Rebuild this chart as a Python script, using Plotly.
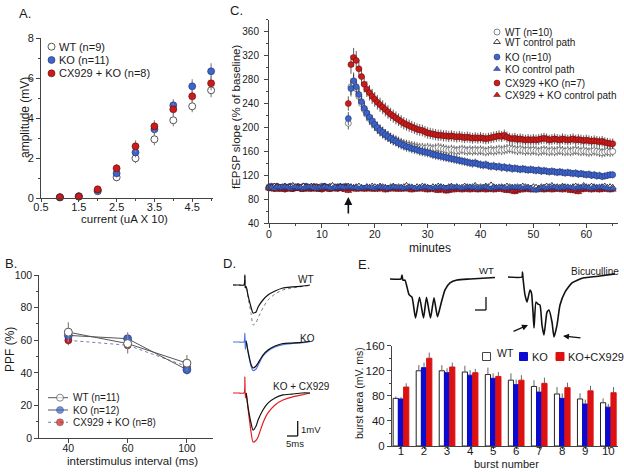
import numpy as np
import plotly.graph_objects as go

# ============================ DATA ============================
# --- Panel A: input/output
current = [1.0, 1.5, 2.0, 2.5, 3.0, 3.5, 4.0, 4.5, 5.0]
amp_wt = [0.05, 0.10, 0.35, 1.05, 2.00, 2.95, 3.90, 4.60, 5.40]
amp_wt_err = [0.05, 0.06, 0.10, 0.20, 0.25, 0.30, 0.30, 0.30, 0.35]
amp_ko = [0.05, 0.10, 0.40, 1.25, 2.30, 3.45, 4.65, 5.60, 6.35]
amp_ko_err = [0.05, 0.06, 0.10, 0.20, 0.25, 0.30, 0.30, 0.35, 0.40]
amp_cx = [0.05, 0.08, 0.45, 1.50, 2.60, 3.60, 4.45, 5.10, 5.75]
amp_cx_err = [0.05, 0.06, 0.10, 0.20, 0.30, 0.30, 0.30, 0.30, 0.35]

# --- Panel B: paired-pulse facilitation
isi_labels = ["40", "60", "100"]
ppf_wt = [65, 58, 46]
ppf_wt_err = [6, 6, 5]
ppf_ko = [63, 61, 42]
ppf_ko_err = [4, 4, 3]
ppf_cx = [60, 57, 44]
ppf_cx_err = [3, 3, 3]

# --- Panel C: LTP time course (one sample every 0.5 min, 0-65 min)
minutes = np.arange(0, 65.5, 0.5)
ltp_wt = [101, 99, 100, 102, 98, 100, 101, 99, 100, 98, 101, 100, 99, 102, 100,
          98, 100, 101, 99, 100, 102, 99, 100, 98, 101, 100, 99, 101, 100, 102,
          207, 268, 275, 265, 252, 240, 230, 222, 215, 209,
          204, 199, 195, 191, 188, 185, 182, 180, 178, 176,
          174, 172, 171, 170, 169, 168, 167, 166, 166, 165,
          166, 165, 164, 165, 166, 165, 164, 163, 162, 163,
          162, 161, 162, 163, 162, 161, 162, 161, 162, 161,
          162, 161, 160, 161, 162, 161, 162, 163, 162, 163,
          164, 165, 164, 163, 162, 163, 162, 161, 162, 161,
          162, 161, 160, 161, 162, 161, 160, 161, 160, 161,
          162, 161, 160, 161, 160, 161, 162, 161, 160, 161,
          160, 159, 160, 161, 160, 159, 158, 159, 160, 159,
          160]
ltp_ko = [100, 102, 99, 101, 100, 98, 101, 100, 102, 99, 100, 101, 98, 100, 102,
          100, 99, 101, 100, 98, 100, 102, 99, 101, 100, 99, 101, 100, 98, 101,
          215, 265, 278, 268, 255, 243, 232, 224, 217, 211,
          205, 200, 195, 192, 188, 185, 182, 179, 177, 174,
          172, 170, 168, 167, 165, 164, 163, 161, 160, 159,
          158, 157, 155, 154, 153, 152, 151, 150, 149, 148,
          147, 146, 145, 144, 143, 142, 141, 140, 141, 139,
          138, 137, 138, 136, 135, 136, 134, 135, 133, 134,
          132, 133, 131, 132, 131, 130, 131, 130, 129, 130,
          129, 128, 129, 127, 128, 127, 126, 127, 126, 125,
          126, 125, 124, 125, 124, 123, 124, 122, 123, 122,
          121, 122, 120, 121, 119, 120, 118, 119, 120, 121,
          121]
ltp_cx = [99, 100, 98, 101, 99, 100, 97, 99, 100, 98, 99, 101, 100, 98, 99,
          100, 98, 99, 101, 99, 97, 100, 99, 98, 100, 99, 98, 100, 99, 100,
          240, 305, 317, 312, 298, 285, 272, 264, 258, 252,
          247, 242, 238, 234, 230, 226, 222, 219, 216, 213,
          210, 207, 205, 203, 201, 199, 197, 196, 195, 193,
          191, 190, 189, 188, 187, 187, 186, 186, 185, 186,
          185, 184, 185, 184, 183, 184, 183, 182, 183, 182,
          183, 182, 181, 182, 183, 184, 185, 186, 185, 187,
          184, 182, 181, 182, 180, 181, 180, 179, 180, 179,
          180, 179, 180, 181, 182, 181, 179, 180, 181, 180,
          179, 181, 180, 179, 180, 181, 179, 180, 179, 178,
          179, 178, 177, 178, 177, 176, 177, 175, 174, 173,
          173]
ctl_wt = [101, 100, 102, 101, 99, 101, 102, 100, 101, 103, 100, 101, 99, 102, 101,
          100, 102, 101, 100, 99, 101, 102, 100, 101, 103, 101, 100, 102, 101, 100,
          102, 101, 100, 101, 102, 100, 99, 101, 100, 102,
          101, 100, 102, 101, 100, 99, 101, 102, 100, 101,
          100, 101, 103, 101, 100, 99, 101, 100, 102, 101,
          100, 99, 101, 100, 102, 101, 100, 99, 101, 102,
          100, 101, 99, 100, 102, 101, 100, 101, 103, 100,
          101, 100, 102, 101, 104, 101, 100, 99, 101, 100,
          102, 101, 100, 99, 101, 100, 102, 101, 100, 99,
          101, 100, 99, 101, 100, 102, 101, 103, 100, 101,
          100, 102, 101, 100, 99, 101, 102, 101, 100, 103,
          101, 100, 102, 101, 100, 99, 101, 102, 100, 101,
          100]
ctl_ko = [99, 100, 98, 101, 100, 99, 101, 100, 98, 100, 101, 99, 100, 98, 99,
          101, 100, 99, 98, 100, 99, 101, 100, 99, 98, 100, 99, 101, 100, 99,
          100, 101, 99, 100, 98, 100, 99, 101, 100, 99,
          98, 100, 101, 99, 100, 98, 99, 101, 100, 99,
          100, 98, 99, 100, 101, 99, 98, 100, 99, 101,
          100, 99, 98, 100, 99, 101, 100, 98, 99, 100,
          99, 101, 100, 98, 99, 100, 101, 99, 100, 98,
          99, 100, 101, 99, 98, 100, 99, 101, 100, 99,
          98, 99, 100, 101, 99, 100, 98, 99, 100, 99,
          96, 95, 97, 99, 100, 98, 99, 100, 101, 99,
          98, 100, 99, 101, 100, 99, 98, 100, 99, 101,
          100, 99, 98, 100, 99, 101, 100, 99, 98, 97,
          98]
ctl_cx = [98, 97, 99, 96, 98, 97, 99, 98, 96, 97, 98, 99, 97, 96, 98,
          97, 99, 98, 96, 97, 98, 97, 99, 96, 98, 97, 98, 99, 97, 96,
          94, 97, 98, 96, 97, 98, 96, 97, 98, 96,
          97, 96, 98, 97, 95, 96, 97, 98, 96, 97,
          96, 97, 98, 96, 95, 97, 96, 98, 97, 96,
          95, 96, 97, 95, 94, 96, 95, 93, 94, 96,
          95, 97, 96, 95, 97, 96, 95, 97, 96, 95,
          96, 97, 95, 96, 97, 95, 96, 97, 96, 95,
          94, 95, 93, 92, 94, 96, 95, 97, 96, 95,
          96, 95, 97, 96, 95, 96, 97, 95, 96, 97,
          96, 95, 97, 96, 94, 95, 93, 92, 95, 96,
          97, 96, 95, 97, 96, 95, 96, 97, 96, 95,
          96]
tetanus_minute = 15

# --- Panel D: fEPSP sample traces (ms, mV)
d_ms = [0, 2.5, 5.0, 5.4, 5.6, 6.0, 6.8, 8.2, 9.1, 10.5, 11.4, 13.6, 15.9,
        19.1, 22.7, 26.8, 31.4, 35.0]
d_wt_black = [0, 0, 0, 0.67, -0.2, -0.1, -0.67, -1.47, -1.87, -1.8, -1.47, -1.0,
              -0.67, -0.4, -0.2, -0.13, -0.07, 0]
d_wt_dot = [0, 0, 0, 0.6, -0.2, -0.1, -0.8, -1.9, -2.67, -2.5, -2.2, -1.53, -1.0,
            -0.6, -0.33, -0.2, -0.1, -0.03]
d_ko_black = [None, None, None, None, None, 0.05, -0.6, -1.5, -1.73, -1.6, -1.4,
              -0.87, -0.53, -0.27, -0.1, -0.07, -0.03, 0.05]
d_ko_blue = [0, 0, 0, 0.6, -0.5, 0.1, -0.65, -1.6, -1.9, -1.8, -1.55, -0.95, -0.6,
             -0.33, -0.17, -0.1, -0.05, 0.03]
d_cx_black = [None, None, None, None, None, 0, -0.9, -2.0, -2.47, -2.2, -1.8, -1.13,
              -0.67, -0.33, -0.13, -0.07, 0, 0]
d_cx_red = [0, 0, 0, 1.07, -0.33, 0, -1.0, -2.6, -3.27, -3.15, -2.93, -2.0, -1.33,
            -0.8, -0.47, -0.27, -0.13, 0]

# --- Panel E: burst traces (ms, mV) and burst areas
ew_ms = [0, 22, 24, 26, 30, 38, 44, 51, 59, 67, 73, 81, 88, 95, 102, 110, 120, 134, 160, 210]
ew_mv = [0, 0, 0.15, -0.05, -0.04, -0.6, -0.7, -1.5, -0.7, -1.5, -0.7, -1.5, -0.72,
         -1.45, -0.95, -0.42, -0.15, -0.04, 0.0, 0.06]
eb_ms = [0, 28, 29, 30, 34, 38, 44, 47, 50, 52, 56, 60, 64, 68, 72, 78, 82, 88, 92,
         98, 104, 114, 128, 150, 184, 214]
eb_mv = [0, 0, 0.19, -0.04, -0.69, -0.96, -0.5, -0.62, -1.35, -1.96, -0.96, -1.04,
         -1.08, -1.85, -2.23, -1.35, -1.27, -1.73, -2.31, -1.85, -1.08, -0.58, -0.23,
         -0.04, 0.04, 0.12]
burst_number = [1, 2, 3, 4, 5, 6, 7, 8, 9, 10]
area_wt = [76, 120, 120, 118, 114, 105, 95, 83, 75, 69]
area_wt_err = [3, 9, 9, 10, 11, 11, 10, 11, 9, 7]
area_ko = [75, 125, 117, 113, 108, 98, 86, 76, 67, 62]
area_ko_err = [3, 8, 7, 8, 8, 8, 8, 8, 7, 5]
area_cx = [94, 140, 126, 117, 111, 105, 100, 93, 88, 85]
area_cx_err = [6, 9, 7, 6, 7, 8, 9, 8, 8, 9]

# ============================ STYLE / LAYOUT ============================
W, H = 624, 472
FONT = "Arial, Liberation Sans, sans-serif"
AX = "#444"
TXT = "#1a1a1a"
BLUE = "#3d64c8"
RED = "#cc1b1b"
BAR_BLUE = "#0a0ad0"
BAR_RED = "#dd1111"


def px_x(x0, x1):
    return [x0 / W, x1 / W]


def px_y(top, bot):
    return [1 - bot / H, 1 - top / H]


def axis(fs=11, **kw):
    d = dict(showline=True, linecolor=AX, linewidth=1, ticks="outside", ticklen=4,
             tickwidth=1, tickcolor=AX, showgrid=False, zeroline=False, fixedrange=True,
             automargin=False, tickfont=dict(size=fs, color=TXT, family=FONT))
    d.update(kw)
    return d


def minor(dt):
    return dict(dtick=dt, ticks="outside", ticklen=2, tickcolor=AX, showgrid=False)


def hidden(**kw):
    d = dict(visible=False, showgrid=False, zeroline=False, fixedrange=True, automargin=False)
    d.update(kw)
    return d


mk_wt = dict(symbol="circle", size=7, color="white", line=dict(color="#555", width=1))
mk_ko = dict(symbol="circle", size=7, color=BLUE, line=dict(color="#1e2e70", width=0.6))
mk_cx = dict(symbol="circle", size=7, color=RED, line=dict(color="#5a0a0a", width=0.6))

fig = go.Figure()

# ---- Panel A
for y, err, mk in [(amp_wt, amp_wt_err, mk_wt), (amp_ko, amp_ko_err, mk_ko),
                   (amp_cx, amp_cx_err, mk_cx)]:
    fig.add_trace(go.Scatter(x=current, y=y, mode="markers", marker=mk, xaxis="x", yaxis="y",
                             error_y=dict(type="data", array=err, color="#888", thickness=1.2, width=0),
                             cliponaxis=False))

# ---- Panel B
for y, err, mk, ln in [(ppf_cx, ppf_cx_err, dict(mk_cx, size=7), dict(color="#7080b0", width=1, dash="dot")),
                       (ppf_ko, ppf_ko_err, dict(mk_ko, size=8), dict(color="#555", width=1)),
                       (ppf_wt, ppf_wt_err, dict(mk_wt, size=8), dict(color="#555", width=1))]:
    fig.add_trace(go.Scatter(x=isi_labels, y=y, mode="lines+markers", marker=mk, line=ln,
                             xaxis="x2", yaxis="y2", cliponaxis=False,
                             error_y=dict(type="data", array=err, color="#888", thickness=1.2, width=0)))

# ---- Panel C
c_wt = dict(symbol="circle", size=6, color="white", line=dict(color="#666", width=0.8))
c_ko = dict(symbol="circle", size=6, color=BLUE, line=dict(color="#1e2e70", width=0.5))
c_cx = dict(symbol="circle", size=6, color=RED, line=dict(color="#5a0a0a", width=0.5))
t_wt = dict(symbol="triangle-up", size=6, color="white", line=dict(color="#111", width=0.8))
t_ko = dict(symbol="triangle-up", size=6, color=BLUE, line=dict(color="#1e2e70", width=0.5))
t_cx = dict(symbol="triangle-up", size=6, color=RED, line=dict(color="#5a0a0a", width=0.5))
for y, mk, pct in [(ltp_wt, c_wt, 5), (ltp_ko, c_ko, 5), (ltp_cx, c_cx, 5),
                   (ctl_wt, t_wt, 5), (ctl_cx, t_cx, 4), (ctl_ko, t_ko, 4)]:
    fig.add_trace(go.Scatter(x=minutes, y=y, mode="markers", marker=mk, xaxis="x3", yaxis="y3",
                             cliponaxis=False,
                             error_y=dict(type="percent", value=pct, color="#333", thickness=0.8, width=0)))

# ---- Panel D traces
for ax, series in [("5", [(d_wt_dot, dict(color="#777", width=1, dash="dot")),
                          (d_wt_black, dict(color="#111", width=1.2))]),
                   ("6", [(d_ko_blue, dict(color="#4a78dd", width=1.2)),
                          (d_ko_black, dict(color="#111", width=1.2))]),
                   ("7", [(d_cx_red, dict(color="#e02020", width=1.2)),
                          (d_cx_black, dict(color="#111", width=1.2))])]:
    for y, ln in series:
        fig.add_trace(go.Scatter(x=d_ms, y=y, mode="lines", line=dict(ln, shape="spline", smoothing=0.6),
                                 xaxis="x" + ax, yaxis="y" + ax, cliponaxis=False, connectgaps=False))

# ---- Panel E traces
fig.add_trace(go.Scatter(x=ew_ms, y=ew_mv, mode="lines",
                         line=dict(color="#111", width=1.6, shape="spline", smoothing=0.5),
                         xaxis="x8", yaxis="y8", cliponaxis=False))
fig.add_trace(go.Scatter(x=eb_ms, y=eb_mv, mode="lines",
                         line=dict(color="#111", width=1.6, shape="spline", smoothing=0.5),
                         xaxis="x9", yaxis="y9", cliponaxis=False))

# ---- Panel E bars
zeros = [0] * len(burst_number)
for y, err, col, lc in [(area_wt, area_wt_err, "white", "#222"),
                        (area_ko, area_ko_err, BAR_BLUE, BAR_BLUE),
                        (area_cx, area_cx_err, BAR_RED, BAR_RED)]:
    fig.add_trace(go.Bar(x=burst_number, y=y, marker=dict(color=col, line=dict(color=lc, width=1)),
                         xaxis="x4", yaxis="y4",
                         error_y=dict(type="data", array=err, arrayminus=zeros, symmetric=False,
                                      color="#666", thickness=1, width=0)))

# ---- Legend glyphs (pixel overlay axis x10/y10)
def glyph(x, y, mk, mode="markers", line=None):
    fig.add_trace(go.Scatter(x=x, y=y, mode=mode, marker=mk, line=line, xaxis="x10", yaxis="y10",
                             cliponaxis=False))

for yy, mk in zip([46.7, 60, 73.3], [mk_wt, mk_ko, mk_cx]):
    glyph([51.5], [yy], mk)
for yy, mk, ln in zip([397.7, 410, 422.3], [mk_wt, mk_ko, mk_cx],
                      [dict(color="#555", width=1), dict(color="#555", width=1),
                       dict(color="#7080b0", width=1, dash="dot")]):
    glyph([48, 60, 68], [yy, yy, yy], dict(mk, size=[0, 7, 0]), mode="lines+markers", line=ln)
for yy, mk in zip([32, 42, 57, 69, 83, 95], [c_wt, t_wt, c_ko, t_ko, c_cx, t_cx]):
    glyph([497], [yy], mk)
for xx, col, lc in zip([486.5, 523.5, 560], ["white", BAR_BLUE, BAR_RED], ["#444", BAR_BLUE, BAR_RED]):
    glyph([xx], [356.5], dict(symbol="square", size=8, color=col, line=dict(color=lc, width=1)))

# ---- Annotations (pixel coordinates on the overlay axis)
ann = []


def txt(x, y, s, size=11, xa="left", angle=0, ya="middle"):
    ann.append(dict(x=x, y=y, xref="x10", yref="y10", text=s, showarrow=False, xanchor=xa,
                    yanchor=ya, textangle=angle, font=dict(size=size, color=TXT, family=FONT)))


# panel letters
for x, y, s in [(25, 13, "A."), (11, 263, "B."), (236, 10, "C."), (229, 263, "D."), (364, 264, "E.")]:
    txt(x, y, s, size=13, xa="center")
# axis titles
txt(25, 118, "amplitude (mV)", 12, "center", -90)
txt(124, 219, "current (uA X 10)", 11.5, "center")
txt(10, 350, "PPF (%)", 12, "center", -90)
txt(132, 461, "interstimulus interval (ms)", 11.5, "center")
txt(236, 117, "fEPSP slope (% of baseline)", 11.5, "center", -90)
txt(430, 248, "minutes", 12, "center")
txt(359, 393, "burst area (mV. ms)", 10.5, "center", -90)
txt(506, 464, "burst number", 11, "center")
# legends
for yy, s in zip([46.7, 60, 73.3], ["WT (n=9)", "KO (n=11)", "CX929 + KO (n=8)"]):
    txt(57, yy, s, 11)
for yy, s in zip([397.7, 410, 422.3], ["WT (n=11)", "KO (n=12)", "CX929 + KO (n=8)"]):
    txt(71, yy, s, 10)
for yy, s in zip([32, 42, 57, 69, 83, 95], ["WT (n=10)", "WT control path", "KO (n=10)",
                                            "KO control path", "CX929 +KO (n=7)",
                                            "CX929 + KO control path"]):
    txt(503, yy, s, 10)
txt(495, 353, "WT", 10.5)
txt(530, 356.5, "KO", 11)
txt(566, 356.5, "KO+CX929", 11)
# trace labels
txt(306, 279, "WT", 10, "center")
txt(307, 338, "KO", 10, "center")
txt(301, 386, "KO + CX929", 10, "center")
txt(299, 429, "1mV", 9.5)
txt(295, 443, "5ms", 9.5, "center")
txt(486, 270, "WT", 9.5, "center")
txt(595, 271, "Bicuculline", 10, "center")

# arrows
ann.append(dict(x=tetanus_minute, y=84, xref="x3", yref="y3", ax=tetanus_minute, ay=54,
                axref="x3", ayref="y3", text="", showarrow=True, arrowhead=2, arrowsize=1,
                arrowwidth=1.6, arrowcolor="#111"))
for (hx, hy), (tx, ty) in [((528, 325), (512, 332)), ((563, 336), (582, 338))]:
    ann.append(dict(x=hx, y=hy, xref="x10", yref="y10", ax=tx, ay=ty, axref="x10", ayref="y10",
                    text="", showarrow=True, arrowhead=2, arrowsize=1, arrowwidth=1.2,
                    arrowcolor="#111"))

# scale bars
shapes = []
for x0, y0, x1, y1 in [(297.7, 421, 297.7, 436), (287, 436, 297.7, 436),
                       (486, 297, 486, 310), (475, 310, 486, 310)]:
    shapes.append(dict(type="line", xref="x10", yref="y10", x0=x0, y0=y0, x1=x1, y1=y1,
                       line=dict(color="#111", width=1.3)))

D_PX_MS, D_PX_MV = 2.2, 15


def d_dom(base):
    return px_y(base - 1.5 * D_PX_MV, base + 3.5 * D_PX_MV)


fig.update_layout(
    width=W, height=H, margin=dict(l=0, r=0, t=0, b=0, pad=0), autosize=False,
    paper_bgcolor="white", plot_bgcolor="rgba(0,0,0,0)", showlegend=False, hovermode=False,
    font=dict(family=FONT, color=TXT), barmode="group", bargap=0.32, bargroupgap=0,
    annotations=ann, shapes=shapes,
    # A
    xaxis=axis(11, domain=px_x(41, 213), range=[0.5, 5.05], tick0=0.5, dtick=1, minor=minor(0.5),
               ticklen=3, ticklabelstandoff=-5, anchor="y"),
    yaxis=axis(11, domain=px_y(38.3, 198.3), range=[0, 8], dtick=2, minor=minor(1), anchor="x"),
    # B
    xaxis2=axis(10.5, domain=px_x(39.3, 213), type="category", range=[-0.49, 2.44],
                ticklabelstandoff=-4, anchor="y2"),
    yaxis2=axis(10.5, domain=px_y(275, 438.3), range=[0, 100], dtick=20, minor=minor(10), anchor="x2"),
    # C
    xaxis3=axis(10.5, domain=px_x(269, 618), range=[0, 66], dtick=10, minor=minor(5),
                ticklabelstandoff=-3, anchor="y3"),
    yaxis3=axis(10, domain=px_y(19.7, 223.3), range=[40, 380], tick0=40, dtick=40, minor=minor(20),
                ticklabelstandoff=3, anchor="x3"),
    # E bars
    xaxis4=axis(11.5, domain=px_x(392, 618), range=[0.61, 10.42], dtick=1, ticklen=2,
                ticklabelstandoff=-8, anchor="y4"),
    yaxis4=axis(11.5, domain=px_y(345.7, 446), range=[0, 160], dtick=40, minor=minor(20), anchor="x4"),
    # D traces
    xaxis5=hidden(domain=px_x(233, 233 + 35 * D_PX_MS), range=[0, 35], anchor="y5"),
    yaxis5=hidden(domain=d_dom(285), range=[-3.5, 1.5], anchor="x5"),
    xaxis6=hidden(domain=px_x(233, 233 + 35 * D_PX_MS), range=[0, 35], anchor="y6"),
    yaxis6=hidden(domain=d_dom(342), range=[-3.5, 1.5], anchor="x6"),
    xaxis7=hidden(domain=px_x(233, 233 + 35 * D_PX_MS), range=[0, 35], anchor="y7"),
    yaxis7=hidden(domain=d_dom(393), range=[-3.5, 1.5], anchor="x7"),
    # E traces
    xaxis8=hidden(domain=px_x(390, 495), range=[0, 210], anchor="y8"),
    yaxis8=hidden(domain=px_y(279 - 13, 279 + 52), range=[-2.0, 0.5], anchor="x8"),
    xaxis9=hidden(domain=px_x(508, 615), range=[0, 214], anchor="y9"),
    yaxis9=hidden(domain=px_y(277 - 13, 277 + 65), range=[-2.5, 0.5], anchor="x9"),
    # pixel overlay
    xaxis10=hidden(domain=[0, 1], range=[0, W], anchor="y10"),
    yaxis10=hidden(domain=[0, 1], range=[H, 0], anchor="x10"),
)

fig.write_html("out.html", config={"displayModeBar": False},
               post_script="document.body.style.margin='0px';document.body.style.overflow='hidden';")
